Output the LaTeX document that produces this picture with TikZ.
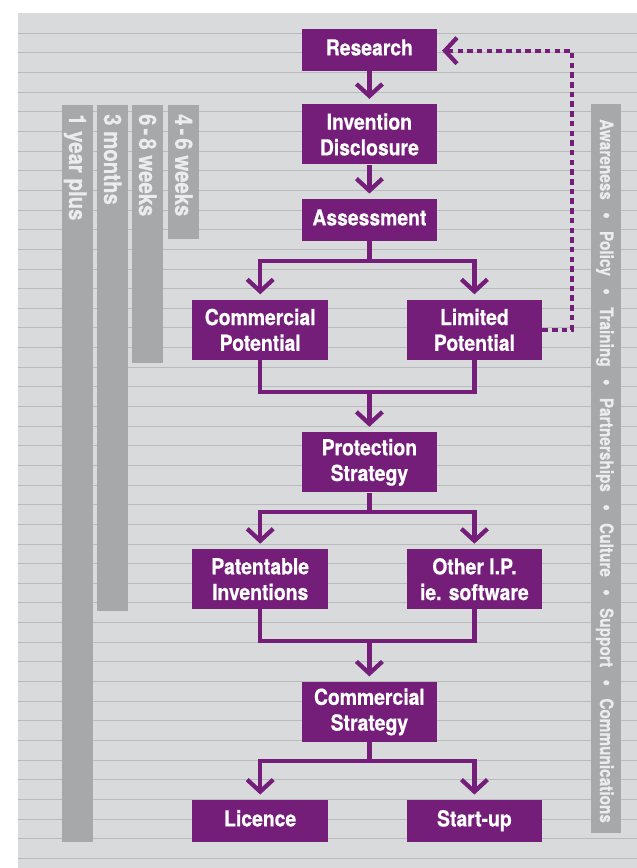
\documentclass[tikz,border=0pt]{standalone}
\usepackage{fontspec}
\usetikzlibrary{arrows.meta}
\newfontfamily\boxf[FakeStretch=0.88,FakeBold=0.6]{TeX Gyre Heros}
\newfontfamily\barf[FakeStretch=0.85,FakeBold=0.5]{TeX Gyre Heros}
\newfontfamily\sidef[FakeStretch=0.83,FakeBold=0.4]{TeX Gyre Heros}
\definecolor{ipurple}{HTML}{741E7A}
\definecolor{bgc}{HTML}{D9DADC}
\definecolor{rulec}{HTML}{B9BABC}
\definecolor{barc}{HTML}{A7A8AA}
\definecolor{bartext}{HTML}{ECECEE}
\newcommand\bsep{\hspace{12.2pt}\raisebox{-0.6pt}{\scalebox{1.25}{\textbullet}}\hspace{12.2pt}}
\newcommand\hy{\kern3pt-\kern3pt}
\begin{document}
\begin{tikzpicture}[x=1pt,y=-1pt,
  box/.style={fill=ipurple, text=white, minimum width=135.5pt, inner sep=0pt, align=center,
    font=\boxf\bfseries\fontsize{22}{25.7}\selectfont},
  onebox/.style={box, minimum height=41.7pt, text height=16pt, text depth=5pt},
  twobox/.style={box, minimum height=60pt},
  conn/.style={draw=ipurple, line width=4.3pt},
  arr/.style={conn, -{Straight Barb[length=12pt,width=26pt,sharp]}, shorten >=5.3pt},
  dotarr/.style={draw=ipurple, line width=3.6pt, dash pattern=on 5.5pt off 4.2pt,
    -{Straight Barb[length=12pt,width=26pt,sharp,line width=4.3pt]}, shorten >=4.7pt},
  bartxt/.style={text=bartext, inner sep=0pt, anchor=base west, rotate=-90,
    font=\barf\bfseries\fontsize{24}{24}\selectfont},
  sidetxt/.style={text=bartext, inner sep=0pt, anchor=base west, rotate=-90,
    font=\sidef\bfseries\fontsize{18.5}{18.5}\selectfont}
]
\useasboundingbox (0,0) rectangle (637,868);
\fill[white] (0,0) rectangle (637,868);
\fill[bgc] (18.3,13.3) rectangle (637,868);
\foreach \k in {0,...,42}{
  \draw[rulec, line width=1pt] (18.3,{33.3+19.643*\k}) -- (637,{33.3+19.643*\k});
}
% time bars
\fill[barc] (62,105) rectangle (93,841.7);
\fill[barc] (97,105) rectangle (128,610.7);
\fill[barc] (132,105) rectangle (163,362.7);
\fill[barc] (168.3,105) rectangle (199,239.3);
\node[bartxt] (t1) at (69.0,114) {1 year plus};
\node[bartxt] (t2) at (104.0,114) {3 months};
\node[bartxt] (t3) at (139.0,114) {6\hy8 weeks};
\node[bartxt] (t4) at (175.2,114) {4\hy6 weeks};
% side bar
\fill[barc] (590.7,104) rectangle (621,833);
\node[sidetxt] (side) at (600,119) {Awareness\bsep Policy\bsep Training\bsep Partnerships\bsep Culture\bsep Support\bsep Communications};
% boxes
\node[onebox] (research)   at (369.4,49.9)  {Research};
\node[twobox] (invention)  at (369.4,134.4) {Invention\\Disclosure};
\node[onebox] (assessment) at (369.4,219.9) {Assessment};
\node[twobox] (commpot)    at (260.2,329.8) {Commercial\\Potential};
\node[twobox] (limpot)     at (474.4,329.8) {Limited\\Potential};
\node[twobox] (protection) at (369.4,462.3) {Protection\\Strategy};
\node[twobox] (patent)     at (260.2,579.2) {Patentable\\Inventions};
\node[twobox] (otherip)    at (474.4,579.2) {Other I.P.\\ie. software};
\node[twobox] (commstrat)  at (369.4,711.9) {Commercial\\Strategy};
\node[onebox] (licence)    at (260.2,820.9) {Licence};
\node[onebox] (startup)    at (474.4,820.9) {Start-up};
% coordinates
\coordinate (s1) at (369.4,260.7);
\coordinate (m1) at (369.4,391.7);
\coordinate (s2) at (369.4,511.7);
\coordinate (m2) at (369.4,641);
\coordinate (s3) at (369.4,760.7);
\coordinate (dc) at (571.7,50.7);
% connectors
\draw[arr] (research) -- (invention);
\draw[arr] (invention) -- (assessment);
\draw[conn] (assessment.south) -- (s1);
\draw[arr] (s1) -| (commpot.north);
\draw[arr] (s1) -| (limpot.north);
\draw[conn] (commpot.south) |- (m1);
\draw[conn] (limpot.south) |- (m1);
\draw[arr] (m1) -- (protection.north);
\draw[conn] (protection.south) -- (s2);
\draw[arr] (s2) -| (patent.north);
\draw[arr] (s2) -| (otherip.north);
\draw[conn] (patent.south) |- (m2);
\draw[conn] (otherip.south) |- (m2);
\draw[arr] (m2) -- (commstrat.north);
\draw[conn] (commstrat.south) -- (s3);
\draw[arr] (s3) -| (licence.north);
\draw[arr] (s3) -| (startup.north);
\draw[dotarr] (limpot.east) -| (dc) -- (dc -| research.east);
\end{tikzpicture}
\end{document}
